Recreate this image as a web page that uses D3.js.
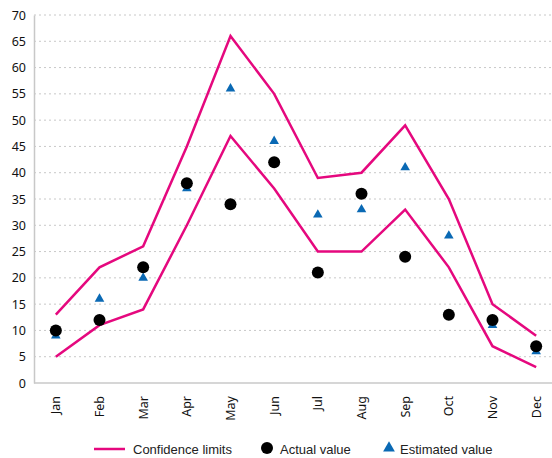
<!DOCTYPE html>
<html>
<head>
<meta charset="utf-8">
<script src="https://cdn.jsdelivr.net/npm/d3@7"></script>
<style>
  body { margin: 0; background: #fff; }
  svg { display: block; }
  .tick text { font-family: "Noto Sans", "Open Sans", sans-serif; font-size: 12.5px; fill: #111; }
  .legend text { font-family: "Liberation Sans", Arial, sans-serif; font-size: 13px; fill: #222; }
</style>
</head>
<body>
<div class="canvas"></div>
<script>
const months = ["Jan", "Feb", "Mar", "Apr", "May", "Jun", "Jul", "Aug", "Sep", "Oct", "Nov", "Dec"];
const upper = [13, 22, 26, 45, 66, 55, 39, 40, 49, 35, 15, 9];
const lower = [5, 11, 14, 30, 47, 37, 25, 25, 33, 22, 7, 3];
const actual = [10, 12, 22, 38, 34, 42, 21, 36, 24, 13, 12, 7];
const estimated = [9, 16, 20, 37, 56, 46, 32, 33, 41, 28, 11, 6];
const yTicks = d3.range(0, 75, 5);

const dims = { w: 552, h: 458 };
const plot = { left: 34, right: 558, top: 15, bottom: 383 };

const pink = "#e5087e";
const blue = "#0a69b4";

const svg = d3
  .select(".canvas")
  .append("svg")
  .attr("width", dims.w)
  .attr("height", dims.h);

const x = d3.scaleBand().domain(months).range([plot.left, plot.right]);
const cx = m => x(m) + x.bandwidth() / 2;
const y = d3.scaleLinear().domain([0, 70]).range([plot.bottom, plot.top]);

// dotted gridlines
svg
  .append("g")
  .selectAll("line")
  .data(yTicks.filter(t => t > 0))
  .enter()
  .append("line")
  .attr("x1", plot.left)
  .attr("x2", dims.w)
  .attr("y1", d => y(d))
  .attr("y2", d => y(d))
  .attr("stroke", "#c8c8c8")
  .attr("stroke-width", 1)
  .attr("stroke-dasharray", "2,3");

// y axis
const yAxis = svg
  .append("g")
  .attr("transform", `translate(${plot.left},0)`)
  .call(d3.axisLeft(y).tickValues(yTicks).tickSize(0).tickPadding(8));
yAxis.select(".domain").attr("stroke", "#c8c8c8").attr("stroke-width", 1.5);

// x axis
const xAxis = svg
  .append("g")
  .attr("transform", `translate(0,${plot.bottom})`)
  .call(d3.axisBottom(x).tickSize(0));
xAxis.select(".domain").attr("stroke", "#c8c8c8").attr("stroke-width", 1.5).attr("d", `M${plot.left},0H${dims.w}`);
xAxis
  .selectAll(".tick text")
  .attr("transform", "rotate(-90)")
  .attr("text-anchor", "end")
  .attr("x", -13)
  .attr("y", 0)
  .attr("dy", "0.35em");

// confidence limits
const line = d3
  .line()
  .x((d, i) => cx(months[i]))
  .y(d => y(d));

[upper, lower].forEach(series => {
  svg
    .append("path")
    .attr("d", line(series))
    .attr("fill", "none")
    .attr("stroke", pink)
    .attr("stroke-width", 2.5);
});

// estimated values
const tri = d3.symbol().type(d3.symbolTriangle).size(40);
svg
  .append("g")
  .selectAll("path")
  .data(estimated)
  .enter()
  .append("path")
  .attr("d", tri)
  .attr("transform", (d, i) => `translate(${cx(months[i])},${y(d)})`)
  .attr("fill", blue);

// actual values
svg
  .append("g")
  .selectAll("circle")
  .data(actual)
  .enter()
  .append("circle")
  .attr("cx", (d, i) => cx(months[i]))
  .attr("cy", d => y(d))
  .attr("r", 6)
  .attr("fill", "#000");

// legend
const legend = svg.append("g").attr("class", "legend").attr("transform", "translate(0,449)");
legend
  .append("line")
  .attr("x1", 94)
  .attr("x2", 125)
  .attr("stroke", pink)
  .attr("stroke-width", 2.5);
legend.append("text").attr("x", 133).attr("dy", "0.35em").text("Confidence limits");
legend.append("circle").attr("cx", 267).attr("cy", -1).attr("r", 6).attr("fill", "#000");
legend.append("text").attr("x", 280).attr("dy", "0.35em").text("Actual value");
legend
  .append("path")
  .attr("d", d3.symbol().type(d3.symbolTriangle).size(60))
  .attr("transform", "translate(389,-1)")
  .attr("fill", blue);
legend.append("text").attr("x", 400).attr("dy", "0.35em").text("Estimated value");
</script>
</body>
</html>
